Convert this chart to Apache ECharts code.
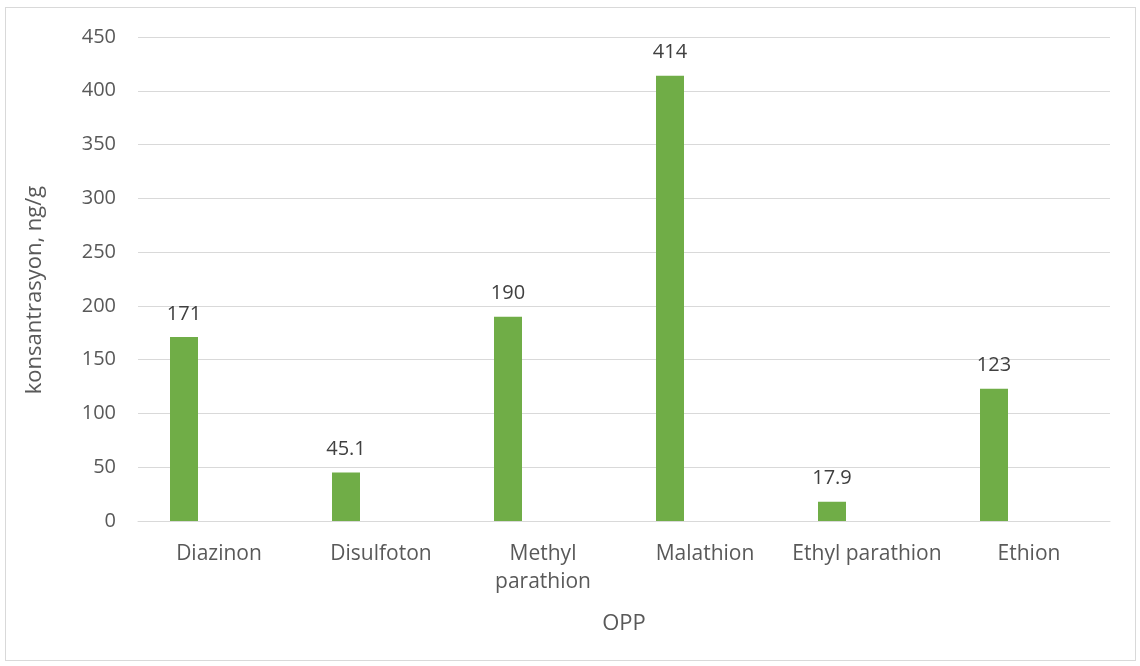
<!DOCTYPE html>
<html>
<head>
<meta charset="utf-8">
<script src="https://cdn.jsdelivr.net/npm/echarts@6/dist/echarts.min.js"></script>
<style>
  html, body { margin: 0; padding: 0; background: #ffffff; }
  #frame { position: absolute; left: 5px; top: 7px; width: 1131px; height: 654px; border: 1px solid #d9d9d9; box-sizing: border-box; }
  #chart { position: absolute; left: 0; top: 0; width: 1140px; height: 666px; }
</style>
</head>
<body>
<div id="frame"></div>
<div id="chart"></div>
<script>
// Pesticide concentrations (ng/g) per organophosphate compound
const categories = ['Diazinon', 'Disulfoton', 'Methyl\nparathion', 'Malathion', 'Ethyl parathion', 'Ethion'];
const concentration = [171, 45.1, 190, 414, 17.9, 123];
const secondSeries = [null, null, null, null, null, null];
const yTicks = { min: 0, max: 450, interval: 50 };

const font = '"Open Sans", "Noto Sans", sans-serif';
const chart = echarts.init(document.getElementById('chart'));
chart.setOption({
  animation: false,
  grid: { left: 138, right: 30, top: 37, bottom: 145, containLabel: false },
  xAxis: {
    type: 'category',
    data: categories,
    name: 'OPP',
    nameLocation: 'middle',
    nameGap: 92,
    nameTextStyle: { color: '#595959', fontSize: 22, fontFamily: font },
    axisLine: { lineStyle: { color: '#d9d9d9', width: 1 } },
    axisTick: { show: false },
    axisLabel: { color: '#595959', fontSize: 21, fontFamily: font, margin: 19, lineHeight: 28, interval: 0 }
  },
  yAxis: {
    type: 'value',
    min: yTicks.min, max: yTicks.max, interval: yTicks.interval,
    name: 'konsantrasyon, ng/g',
    nameLocation: 'middle',
    nameGap: 92,
    nameTextStyle: { color: '#595959', fontSize: 22, fontFamily: font, padding: [0, 22, 0, 0] },
    axisLine: { show: false },
    axisTick: { show: false },
    splitLine: { lineStyle: { color: '#d9d9d9', width: 1 } },
    axisLabel: { color: '#595959', fontSize: 20, fontFamily: font, margin: 22 }
  },
  series: [
    {
      name: 'konsantrasyon',
      type: 'bar',
      data: concentration,
      barWidth: 28,
      barGap: '150%',
      itemStyle: { color: '#70ad47' },
      label: { show: true, position: 'top', distance: 13, color: '#404040', fontSize: 20, fontFamily: font }
    },
    {
      name: 'seri 2',
      type: 'bar',
      data: secondSeries,
      barWidth: 28,
      itemStyle: { color: '#ed7d31' }
    }
  ]
});
</script>
</body>
</html>
